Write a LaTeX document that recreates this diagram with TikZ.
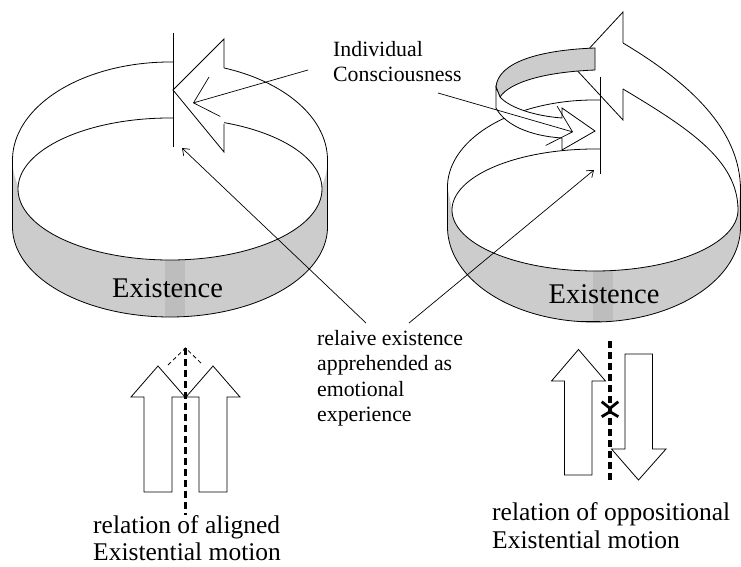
\documentclass[tikz,border=0pt]{standalone}
\usepackage{fontspec}
\setmainfont{Liberation Serif}
\usetikzlibrary{arrows.meta}
\begin{document}
\begin{tikzpicture}[x=1pt,y=-1pt,
  line/.style={line width=0.8pt, line join=miter},
  ptr/.style={line width=0.7pt, -{Straight Barb[length=6pt,width=9pt]}},
  bigptr/.style={line width=0.7pt, -{Straight Barb[length=22pt,width=41pt]}},
  band/.style={fill=gray!40},
  stripe/.style={fill=gray!52},
  fatdash/.style={line width=3.2pt, dash pattern=on 7pt off 4pt},
  roof/.style={line width=0.8pt, dash pattern=on 4pt off 3pt},
  chev/.style={line width=2.8pt},
  lbl/.style={inner sep=0pt, anchor=base west},
  exfont/.style={font=\fontsize{28.5}{34}\selectfont},
  smfont/.style={font=\fontsize{21.8}{25}\selectfont},
  mdfont/.style={font=\fontsize{25.5}{30}\selectfont},
]
\useasboundingbox (0,0) rectangle (741,567);
\fill[white] (0,0) rectangle (741,567);

% ================= LEFT RING =================
\fill[band] plot[domain=180:0,samples=90] ({170+157.5*cos(\x)},{227+90*sin(\x)})
  -- plot[domain=0:180,samples=90] ({170+157.5*cos(\x)},{160+98*sin(\x)}) -- cycle;
\begin{scope}
\clip plot[domain=180:0,samples=90] ({170+157.5*cos(\x)},{227+90*sin(\x)})
  -- plot[domain=0:180,samples=90] ({170+157.5*cos(\x)},{160+98*sin(\x)}) -- cycle;
\fill[stripe] (165,150) rectangle (185,330);
\end{scope}
\fill[white] (170,189) ellipse[x radius=152, y radius=71];
\begin{scope}
\clip (0,0) rectangle (173,567) (224,0) rectangle (741,567) (0,135) rectangle (741,567);
\draw[line] (170,189) ellipse[x radius=152, y radius=71];
\draw[line] plot[domain=180:360,samples=120] ({170+157.5*cos(\x)},{160+98*sin(\x)});
\end{scope}
\draw[line] (12.5,160) -- plot[domain=180:0,samples=120] ({170+157.5*cos(\x)},{227+90*sin(\x)}) -- (327.5,160);
\draw[line] (224,68) -- (224,39) -- (173,90) -- (224,152) -- (224,124);
\draw[line] (173,33) -- (173,147);

% ================= RIGHT RING =================
\fill[band] (447.5,187) -- plot[domain=180:0,samples=90] ({594+146.5*cos(\x)},{227+95*sin(\x)})
  -- (740.5,190) -- plot[domain=0:180,samples=90] ({595+143*cos(\x)},{210+61*sin(\x)}) -- cycle;
\begin{scope}
\clip (447.5,187) -- plot[domain=180:0,samples=90] ({594+146.5*cos(\x)},{227+95*sin(\x)})
  -- (740.5,190) -- plot[domain=0:180,samples=90] ({595+143*cos(\x)},{210+61*sin(\x)}) -- cycle;
\fill[stripe] (593,200) rectangle (613,330);
\end{scope}
\draw[line] plot[domain=272.5:180,samples=90] ({594+146.5*cos(\x)},{187+87*sin(\x)})
  -- plot[domain=180:0,samples=120] ({594+146.5*cos(\x)},{227+95*sin(\x)})
  -- (740.5,190) .. controls (740.5,130) and (690,83) .. (623,43);
\draw[line] plot[domain=272.2:0,samples=150] ({595+143*cos(\x)},{210+61*sin(\x)})
  .. controls (738,160) and (688,128) .. (623,89);
\draw[line width=1.5pt] (578,321.5) -- (600,321.5);
\draw[line] (623,43) -- (623,12) -- (573,66) -- (623,120) -- (623,89);
\draw[line width=1.8pt] (600.5,77) -- (600.5,174);

% curl
\filldraw[line, fill=gray!40] (595,48) .. controls (540,50) and (498,62) .. (496,87)
  -- (500,97) .. controls (510,82) and (545,72) .. (595,70) -- cycle;
\filldraw[line, fill=white] (496,87) -- (496,108) .. controls (505,125) and (530,136) .. (562,138)
  -- (562,150) -- (595,131) -- (562,108) -- (562,118)
  .. controls (535,116) and (510,108) .. (500,97) -- cycle;

% ================= TEXTS =================
\node[lbl, exfont, anchor=base] (ex1) at (167.5,297) {Existence};
\node[lbl, exfont, anchor=base] (ex2) at (604,303) {Existence};
\node[lbl, smfont] (ic1) at (333,57) {Individual};
\node[lbl, smfont] (ic2) at (333,82) {Consciousness};
\node[lbl, smfont] (re1) at (317,345) {relaive existence};
\node[lbl, smfont] (re2) at (317,370.5) {apprehended as};
\node[lbl, smfont] (re3) at (317,396) {emotional};
\node[lbl, smfont] (re4) at (317,421.5) {experience};
\node[lbl, mdfont] (al1) at (93,533) {relation of aligned};
\node[lbl, mdfont] (al2) at (93,560) {Existential motion};
\node[lbl, mdfont] (op1) at (492,520) {relation of oppositional};
\node[lbl, mdfont] (op2) at (492,548) {Existential motion};

% ================= POINTERS =================
\coordinate (p1s) at (308,70);  \coordinate (p1e) at (193,103);
\coordinate (p2s) at (438,93);  \coordinate (p2e) at (573,132);
\coordinate (p3s) at (366,323); \coordinate (p3e) at (182,148);
\coordinate (p4s) at (409,323); \coordinate (p4e) at (594,170);
\draw[bigptr] (p1s) -- (p1e);
\draw[bigptr] (p2s) -- (p2e);
\draw[ptr] (p3s) -- (p3e);
\draw[ptr] (p4s) -- (p4e);

% ================= ALIGNED ARROWS =================
\draw[line, fill=white] (144,492) -- (144,397) -- (131,397) -- (158,366) -- (185,397) -- (172,397) -- (172,492) -- cycle;
\draw[line, fill=white] (199,492) -- (199,397) -- (186,397) -- (213,366) -- (240,397) -- (227,397) -- (227,492) -- cycle;
\draw[roof] (168,365) -- (185.5,348) -- (203,365);
\draw[fatdash] (185.5,348) -- (185.5,515);

% ================= OPPOSED ARROWS =================
\draw[line, fill=white] (564.5,475) -- (564.5,381) -- (551.5,381) -- (578.5,349.5) -- (605.5,381) -- (592,381) -- (592,475) -- cycle;
\draw[line, fill=white] (625,354) -- (625,449) -- (611.5,449) -- (638.5,480) -- (666,449) -- (652.5,449) -- (652.5,354) -- cycle;
\draw[fatdash] (610,341) -- (610,482);
\draw[chev] (601.7,401.7) -- (610,408.3) -- (618.3,401.7);
\draw[chev] (601.7,416.7) -- (610,411.7) -- (618.3,416.7);
\end{tikzpicture}
\end{document}
